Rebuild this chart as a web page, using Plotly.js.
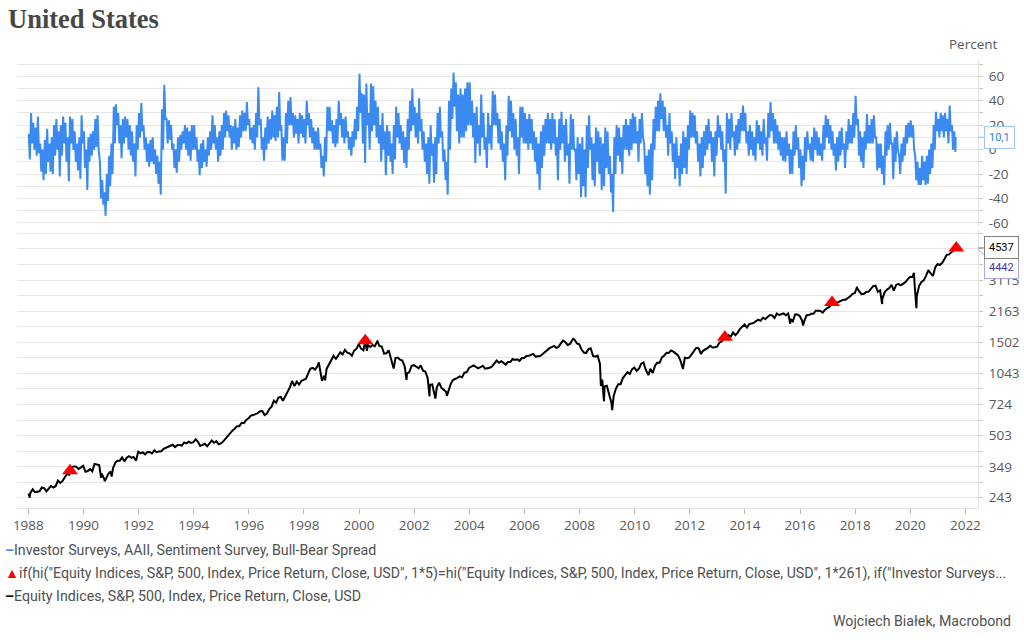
<!DOCTYPE html>
<html>
<head>
<meta charset="utf-8">
<script src="https://cdn.plot.ly/plotly-3.0.1.min.js"></script>
<style>html,body{margin:0;padding:0;background:#fff;}#chart{width:1024px;height:640px;}</style>
</head>
<body>
<div id="chart"></div>
<script>
// ---- AAII Bull-Bear spread: per year, two readings per month (early, late) ----
const sent1988 = [13,-8, 30,5, 22,0, 18,-5, 27,-3, 5,-18, 0,-25, 8,-20, 17,-10, 5,-18, 10,-20, 20,-5];
const sent1989 = [25,0, 15,-22, 20,-5, 27,5, 22,-10, 10,-26, 27,5, 25,0, 15,-10, 5,-17, 10,-24, 28,5];
const sent1990 = [15,-15, 0,-33, 10,-10, 13,-5, 15,0, 25,2, 28,0, -10,-40, -25,-45, -35,-54, -20,-42, -5,-30];
const sent1991 = [5,-20, 35,5, 37,20, 30,5, 20,-7, 25,5, 27,10, 25,0, 20,-5, 15,-10, 5,-22, 20,0];
const sent1992 = [30,10, 38,15, 20,0, 10,-10, 5,-14, 8,-10, 10,-12, 0,-20, -5,-28, -10,-37, 33,0, 53,25];
const sent1993 = [25,5, 24,8, 20,0, 5,-15, 0,-19, 10,-10, 12,0, 15,5, 20,0, 18,-5, 15,-9, 20,0];
const sent1994 = [20,0, 10,-10, 0,-21, 5,-15, 8,-10, 0,-14, 10,-5, 15,0, 28,5, 20,0, 10,-10, 15,-5];
const sent1995 = [20,0, 30,10, 32,15, 28,10, 20,0, 19,5, 25,0, 18,2, 28,10, 32,15, 30,15, 39,20];
const sent1996 = [25,8, 18,5, 20,0, 30,10, 51,20, 25,0, 10,-9, 18,0, 27,5, 25,8, 32,10, 28,7];
const sent1997 = [35,10, 47,15, 20,-9, 10,-9, 30,5, 40,20, 43,20, 30,10, 28,13, 25,5, 30,13, 28,10];
const sent1998 = [25,5, 40,20, 30,10, 25,5, 18,0, 15,0, 18,0, 5,-15, -5,-22, 10,-10, 35,15, 35,15];
const sent1999 = [24,5, 20,2, 25,5, 40,20, 30,10, 25,5, 27,10, 15,0, 10,-5, 15,2, 25,8, 35,15];
const sent2000 = [62,30, 46,5, 45,-11, 54,20, 30,0, 54,15, 52,20, 40,10, 35,5, 20,-10, 30,0, 15,-21];
const sent2001 = [20,-5, 15,-10, 5,-20, 20,-8, 35,10, 30,5, 20,0, 15,-11, 10,-15, 25,0, 40,15, 50,20];
const sent2002 = [35,10, 30,5, 42,15, 25,0, 15,-10, 5,-20, 10,-28, 20,-5, 5,-27, 10,-20, 30,5, 35,10];
const sent2003 = [15,-10, 0,-25, -10,-37, 40,0, 50,25, 63,35, 55,15, 45,5, 50,10, 45,10, 50,15, 55,20];
const sent2004 = [55,20, 40,10, 30,-11, 35,5, 20,-5, 45,10, 30,0, 10,-15, 30,5, 20,0, 48,20, 45,20];
const sent2005 = [30,5, 25,0, 15,-10, 5,-25, 20,-5, 44,15, 40,10, 30,0, 25,-5, 10,-20, 35,10, 35,5];
const sent2006 = [30,5, 25,0, 29,5, 25,0, 15,-10, 10,-20, 5,-33, 15,-15, 20,-5, 25,5, 30,5, 25,0];
const sent2007 = [30,5, 25,-5, 10,-25, 25,0, 31,5, 20,-10, 25,-5, 5,-28, 29,0, 25,0, 0,-25, 10,-20];
const sent2008 = [5,-39, 10,-30, 0,-39, 20,-15, 28,0, 10,-25, 5,-30, 18,-10, 15,-20, 10,-33, 5,-30, 18,-15];
const sent2009 = [15,-20, -5,-35, -20,-51, 10,-20, 20,-5, 18,-10, 10,-20, 20,0, 25,0, 20,-5, 25,0, 30,5];
const sent2010 = [27,5, 15,-10, 25,5, 30,10, 5,-20, -5,-30, 0,-37, 5,-25, 25,0, 35,15, 40,15, 46,25];
const sent2011 = [40,15, 35,10, 20,-5, 30,5, 15,-10, 5,-24, 10,-15, -5,-30, 5,-20, 15,-15, 10,-20, 20,0];
const sent2012 = [32,10, 30,10, 28,5, 15,-10, 5,-22, 10,-15, 15,-5, 20,0, 25,5, 15,-10, 10,-22, 15,-5];
const sent2013 = [28,10, 20,0, 15,-10, 0,-36, 30,5, 25,0, 30,10, 15,-5, 20,0, 25,5, 30,15, 36,15];
const sent2014 = [30,5, 15,-5, 20,0, 15,-5, 10,-9, 24,5, 20,0, 15,-5, 25,5, 10,-9, 30,10, 39,15];
const sent2015 = [30,5, 25,5, 20,0, 15,-5, 10,-9, 10,-10, 15,-5, 5,-20, 0,-20, 15,-5, 20,0, 10,-15];
const sent2016 = [0,-30, -5,-25, 10,-10, 15,0, 5,-9, 10,-10, 18,0, 15,-5, 10,-5, 5,-9, 20,0, 28,10];
const sent2017 = [25,5, 20,0, 15,-5, 5,-17, 10,-10, 15,-5, 18,0, 5,-15, 15,0, 25,5, 20,5, 30,10];
const sent2018 = [44,20, 25,-5, 15,-10, 10,-15, 15,0, 29,5, 20,5, 25,5, 28,10, 10,-17, 5,-15, 5,-20];
const sent2019 = [-5,-29, 15,-5, 20,0, 22,5, 5,-24, 10,-10, 15,0, -5,-20, 5,-10, 10,-5, 20,5, 22,10];
const sent2020 = [24,10, 20,0, -5,-25, -10,-29, -15,-29, -5,-25, -10,-29, -5,-28, 0,-20, 5,-15, 20,0, 31,15];
const sent2021 = [25,10, 30,15, 28,10, 30,15, 25,5, 36,15, 20,0, 15,-2];
const sentLastDate = '2021-08-26';
const sentLastValue = 10.1;

// ---- S&P 500 monthly closes ----
const spx1988 = [257,268,259,261,262,274,272,262,272,279,274,278];
const spx1989 = [297,289,295,310,321,318,346,351,349,340,346,353];
const spx1990 = [329,332,340,331,361,358,356,323,306,304,322,330];
const spx1991 = [344,367,375,375,390,371,388,395,388,392,375,417];
const spx1992 = [409,413,404,415,415,408,424,414,418,419,431,436];
const spx1993 = [439,443,452,440,450,451,448,464,459,468,462,466];
const spx1994 = [482,467,446,451,457,444,458,475,463,472,454,459];
const spx1995 = [470,487,501,515,533,545,562,562,584,582,605,616];
const spx1996 = [636,640,646,654,669,671,640,652,687,705,757,741];
const spx1997 = [786,791,757,801,848,885,954,899,947,915,955,970];
const spx1998 = [980,1049,1102,1112,1091,1134,1121,957,1017,1099,1164,1229];
const spx1999 = [1280,1238,1286,1335,1302,1373,1329,1320,1283,1363,1389,1469];
const spx2000 = [1394,1366,1499,1452,1421,1455,1431,1518,1437,1429,1315,1320];
const spx2001 = [1366,1240,1160,1249,1256,1224,1211,1134,1041,1060,1139,1148];
const spx2002 = [1130,1107,1147,1076,1067,990,912,916,815,886,936,880];
const spx2003 = [856,841,848,917,964,975,990,1008,996,1051,1058,1112];
const spx2004 = [1131,1145,1126,1107,1121,1141,1102,1104,1115,1130,1174,1212];
const spx2005 = [1181,1204,1181,1157,1192,1191,1234,1220,1229,1207,1249,1248];
const spx2006 = [1280,1281,1295,1311,1270,1270,1277,1304,1336,1378,1401,1418];
const spx2007 = [1438,1407,1421,1482,1531,1503,1455,1474,1527,1549,1481,1468];
const spx2008 = [1379,1331,1323,1386,1400,1280,1267,1283,1165,969,896,903];
const spx2009 = [826,735,798,873,919,919,987,1021,1057,1036,1096,1115];
const spx2010 = [1074,1104,1169,1187,1089,1031,1102,1049,1141,1183,1181,1258];
const spx2011 = [1286,1327,1326,1364,1345,1321,1292,1219,1131,1253,1247,1258];
const spx2012 = [1312,1366,1408,1398,1310,1362,1379,1407,1441,1412,1416,1426];
const spx2013 = [1498,1515,1569,1598,1631,1606,1686,1633,1682,1757,1806,1848];
const spx2014 = [1783,1859,1872,1884,1924,1960,1931,2003,1972,2018,2068,2059];
const spx2015 = [1995,2105,2068,2086,2107,2063,2104,1972,1920,2079,2080,2044];
const spx2016 = [1940,1932,2060,2065,2097,2099,2174,2171,2168,2126,2199,2239];
const spx2017 = [2279,2364,2363,2384,2412,2423,2470,2472,2519,2575,2648,2674];
const spx2018 = [2824,2714,2641,2648,2705,2718,2816,2902,2914,2712,2760,2507];
const spx2019 = [2704,2784,2834,2946,2752,2942,2980,2926,2977,3038,3141,3231];
const spx2020 = [3226,2954,2585,2912,3044,3100,3271,3500,3363,3270,3622,3756];
const spx2021 = [3714,3811,3973,4181,4204,4298,4395,4523];
// intramonth turning points
const spxExtraDates = ['1988-01-04','1988-01-20','1990-08-23','1990-10-11','1991-01-09','1998-07-17','1998-10-08','2000-03-24','2000-04-14','2000-09-01','2001-04-04','2001-09-21','2002-07-23','2002-10-09','2003-03-11','2007-10-09','2008-10-10','2008-11-20','2009-03-09','2010-07-02','2011-10-03','2015-08-25','2016-02-11','2018-01-26','2018-12-24','2020-02-19','2020-03-23','2021-09-02'];
const spxExtraValues = [255,243,307,295,311,1187,960,1527,1357,1521,1103,966,797,777,801,1565,899,752,677,1022,1099,1867,1829,2873,2351,3386,2237,4537];

// ---- New-high signal (red triangles) ----
const triDates = ['1989-07-07','2000-03-24','2013-04-10','2017-03-01','2021-09-02'];
const triValues = [333,1527,1593,2396,4537];

// ---- Axis ticks / labels ----
const yTopTicks = [-60,-50,-40,-30,-20,-10,0,10,20,30,40,50,60,70];
const yTopLabels = ['-60','','-40','','-20','','0','','20','','40','','60',''];
const yLogTicks = [243,349,503,724,1043,1502,2163,3115,4486];
const yLogLabels = ['243','349','503','724','1043','1502','2163','3115',''];
const calloutOther = 4442;

const sentYears = [sent1988,sent1989,sent1990,sent1991,sent1992,sent1993,sent1994,sent1995,sent1996,sent1997,sent1998,sent1999,sent2000,sent2001,sent2002,sent2003,sent2004,sent2005,sent2006,sent2007,sent2008,sent2009,sent2010,sent2011,sent2012,sent2013,sent2014,sent2015,sent2016,sent2017,sent2018,sent2019,sent2020,sent2021];
const spxYears = [spx1988,spx1989,spx1990,spx1991,spx1992,spx1993,spx1994,spx1995,spx1996,spx1997,spx1998,spx1999,spx2000,spx2001,spx2002,spx2003,spx2004,spx2005,spx2006,spx2007,spx2008,spx2009,spx2010,spx2011,spx2012,spx2013,spx2014,spx2015,spx2016,spx2017,spx2018,spx2019,spx2020,spx2021];

const pad = n => (n < 10 ? '0' : '') + n;
const sx = [], sy = [];
sentYears.forEach((arr, yi) => {
  const yr = 1988 + yi;
  for (let k = 0; k < arr.length; k++) {
    const m = Math.floor(k / 2) + 1;
    sx.push(yr + '-' + pad(m) + '-' + (k % 2 === 0 ? '07' : '21'));
    sy.push(arr[k]);
  }
});
sx.push(sentLastDate); sy.push(sentLastValue);

let spxPts = [];
spxYears.forEach((arr, yi) => {
  const yr = 1988 + yi;
  arr.forEach((v, m) => spxPts.push([yr + '-' + pad(m + 1) + '-28', v]));
});
spxExtraDates.forEach((d, i) => spxPts.push([d, spxExtraValues[i]]));
spxPts.sort((a, b) => (a[0] < b[0] ? -1 : a[0] > b[0] ? 1 : 0));
const px = spxPts.map(p => p[0]), py = spxPts.map(p => p[1]);

// log-grid: labeled ticks plus geometric midpoints
const logGrid = [];
for (let i = 0; i < yLogTicks.length; i++) {
  logGrid.push(yLogTicks[i]);
  const next = i + 1 < yLogTicks.length ? yLogTicks[i + 1] : yLogTicks[i] * yLogTicks[i] / yLogTicks[i - 1];
  logGrid.push(Math.sqrt(yLogTicks[i] * next));
}
logGrid.push(yLogTicks[yLogTicks.length - 1] * yLogTicks[yLogTicks.length - 1] / yLogTicks[yLogTicks.length - 2]);
const logText = logGrid.map(v => { const i = yLogTicks.indexOf(v); return i >= 0 ? yLogLabels[i] : ''; });

const tickFont = {family: 'Open Sans, sans-serif', size: 13.5, color: '#595959'};
const txtFont = {family: 'Roboto, sans-serif', size: 14.2, color: '#505050'};
const BLUE = '#3b8af2';

const traces = [
  {x: sx, y: sy, type: 'scatter', mode: 'lines', name: 'Investor Surveys, AAII, Sentiment Survey, Bull-Bear Spread',
   line: {color: BLUE, width: 2}, xaxis: 'x', yaxis: 'y', showlegend: false, hoverinfo: 'skip'},
  {x: px, y: py, type: 'scatter', mode: 'lines', name: 'Equity Indices, S&P, 500, Index, Price Return, Close, USD',
   line: {color: '#000000', width: 2}, xaxis: 'x', yaxis: 'y2', showlegend: false, hoverinfo: 'skip'},
  {x: triDates, y: triValues, type: 'scatter', mode: 'markers', name: 'signal',
   marker: {symbol: 'triangle-up', size: 14, color: '#ff0000'}, xaxis: 'x', yaxis: 'y2', showlegend: false, hoverinfo: 'skip'}
];

const L = 17, T = 60, W = 961, H = 448;
const pxX = p => (p - L) / W;
const pxY = p => (T + H - p) / H;
const fmt = v => String(v).replace('.', ',');
const lastSpx = py[py.length - 1];

const layout = {
  width: 1024, height: 640,
  margin: {l: 17, r: 46, t: 60, b: 132},
  paper_bgcolor: '#ffffff', plot_bgcolor: '#ffffff',
  showlegend: false,
  title: {text: 'United States', xref: 'container', yref: 'container', x: 8/1024, xanchor: 'left', y: 1 - 19/640, yanchor: 'middle',
          font: {family: 'Liberation Serif, serif', size: 26.5, color: '#474747', weight: 'bold'}},
  xaxis: {type: 'date', range: ['1987-08-04', '2022-06-17'], anchor: 'y2', tick0: '1988-01-01', dtick: 'M24', tickformat: '%Y',
          ticks: 'outside', ticklen: 5, tickcolor: '#b8b8b8', showline: true, linecolor: '#e3e3e3', showgrid: false,
          tickfont: tickFont, zeroline: false},
  yaxis: {domain: [(T + H - 226) / H, 1], range: [-62.5, 73.3], side: 'right', anchor: 'x',
          tickmode: 'array', tickvals: yTopTicks, ticktext: yTopLabels, ticks: 'outside', ticklen: 4, tickcolor: '#c8c8c8',
          ticklabelstandoff: 3,
          gridcolor: '#e6e6e6', gridwidth: 1, showline: true, linecolor: '#e3e3e3', zeroline: false, tickfont: tickFont},
  yaxis2: {domain: [0, (T + H - 230) / H], type: 'log', range: [2.3332, 3.748], side: 'right', anchor: 'x',
           tickmode: 'array', tickvals: logGrid, ticktext: logText, ticks: 'outside', ticklen: 4, tickcolor: '#c8c8c8',
           ticklabelstandoff: 3,
           gridcolor: '#e6e6e6', gridwidth: 1, showline: true, linecolor: '#e3e3e3', zeroline: false, tickfont: tickFont},
  annotations: [
    {xref: 'paper', yref: 'paper', x: pxX(1000), y: pxY(44), xanchor: 'right', yanchor: 'middle', showarrow: false,
     text: 'Percent', font: tickFont},
    {xref: 'paper', yref: 'y', x: 1, y: sentLastValue, text: fmt(sentLastValue), showarrow: true, arrowhead: 0, arrowwidth: 1,
     arrowcolor: '#9fc4f5', ax: 21, ay: 0, bordercolor: '#9fc4f5', borderwidth: 1, borderpad: 4, bgcolor: '#ffffff',
     font: {family: 'Roboto, sans-serif', size: 11, color: '#2f7de8'}},
    {xref: 'paper', yref: 'y2', x: 1, y: Math.log10(calloutOther), text: String(calloutOther), showarrow: true, arrowhead: 0, arrowwidth: 1,
     arrowcolor: '#a8a8e6', ax: 23, ay: 18, bordercolor: '#a8a8e6', borderwidth: 1, borderpad: 4, bgcolor: '#ffffff',
     font: {family: 'Roboto, sans-serif', size: 11, color: '#3b3ba8'}},
    {xref: 'paper', yref: 'y2', x: 1, y: Math.log10(lastSpx), text: String(lastSpx), showarrow: true, arrowhead: 0, arrowwidth: 1,
     arrowcolor: '#808080', ax: 23, ay: 0, bordercolor: '#808080', borderwidth: 1, borderpad: 4, bgcolor: '#ffffff',
     font: {family: 'Roboto, sans-serif', size: 11, color: '#000000'}},
    {xref: 'paper', yref: 'paper', x: pxX(3), y: pxY(550), xanchor: 'left', yanchor: 'middle', showarrow: false, align: 'left',
     text: '<span style="color:' + BLUE + '"><b>–</b></span>Investor Surveys, AAII, Sentiment Survey, Bull-Bear Spread', font: txtFont},
    {xref: 'paper', yref: 'paper', x: pxX(3), y: pxY(573), xanchor: 'left', yanchor: 'middle', showarrow: false, align: 'left',
     text: '<span style="color:#ff0000">▲</span>if(hi("Equity Indices, S&amp;P, 500, Index, Price Return, Close, USD", 1*5)=hi("Equity Indices, S&amp;P, 500, Index, Price Return, Close, USD", 1*261), if("Investor Surveys...', font: txtFont},
    {xref: 'paper', yref: 'paper', x: pxX(3), y: pxY(596), xanchor: 'left', yanchor: 'middle', showarrow: false, align: 'left',
     text: '<span style="color:#000"><b>–</b></span>Equity Indices, S&amp;P, 500, Index, Price Return, Close, USD', font: txtFont},
    {xref: 'paper', yref: 'paper', x: pxX(1013), y: pxY(621), xanchor: 'right', yanchor: 'middle', showarrow: false,
     text: 'Wojciech Białek, Macrobond', font: txtFont}
  ]
};

Plotly.newPlot('chart', traces, layout, {displayModeBar: false, staticPlot: true});
</script>
</body>
</html>
